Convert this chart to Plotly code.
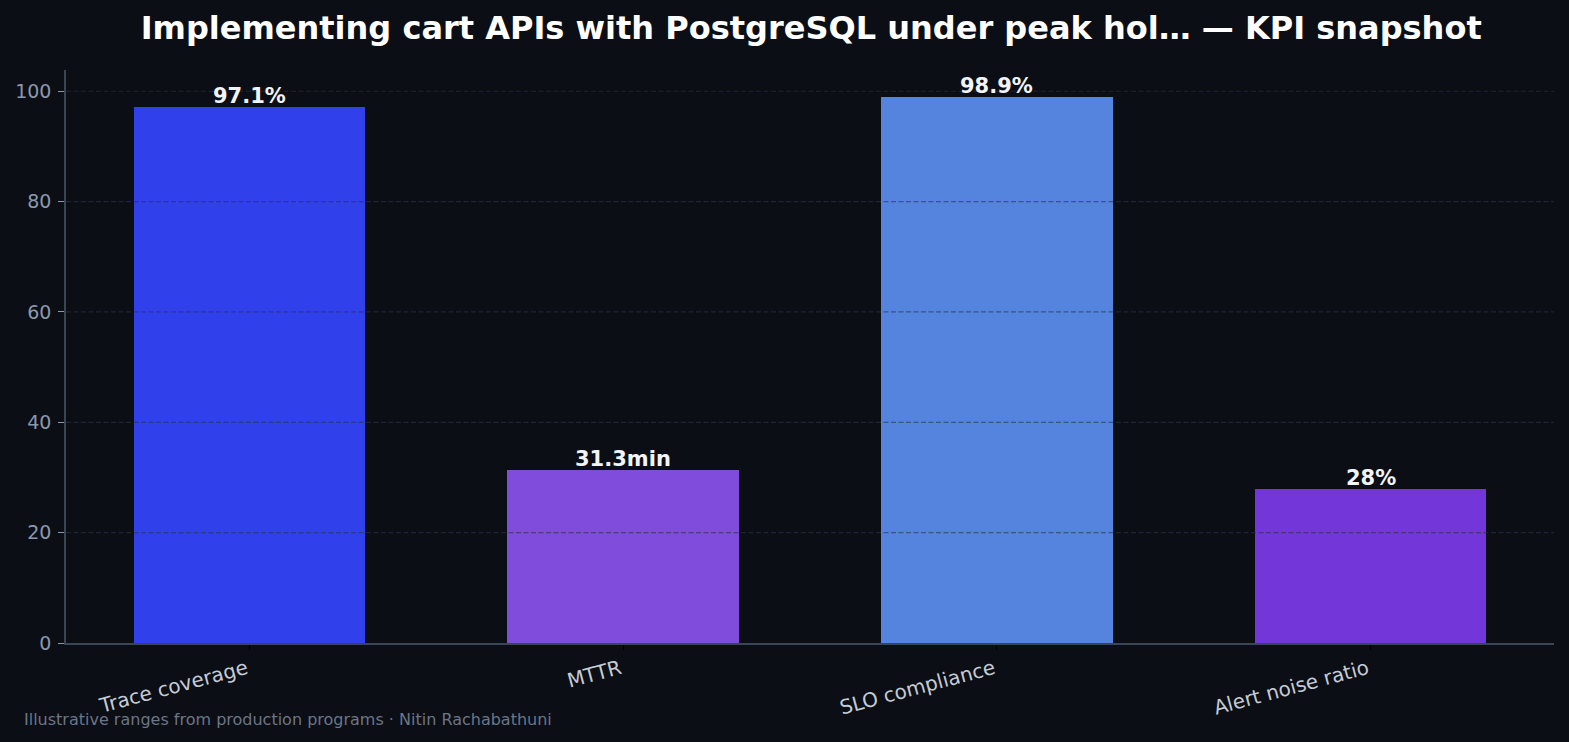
import plotly.graph_objects as go

categories = ["Trace coverage", "MTTR", "SLO compliance", "Alert noise ratio"]
values = [97.1, 31.3, 98.9, 28.0]
labels = ["97.1%", "31.3min", "98.9%", "28%"]
colors = ["#3040EA", "#7F4CDC", "#5584DE", "#7336D9"]
y_ticks = [0, 20, 40, 60, 80, 100]

BG = "#0B0E14"
FONT = "DejaVu Sans"
xs = list(range(len(categories)))

fig = go.Figure()
fig.add_trace(go.Bar(
    x=xs, y=values, width=0.62,
    marker=dict(color=colors, line=dict(width=0)),
    hoverinfo="skip",
))
for xi, v, lab in zip(xs, values, labels):
    fig.add_annotation(
        x=xi, y=v, text=lab, xref="x", yref="y", showarrow=False,
        xanchor="center", yanchor="bottom", yshift=-3,
        font=dict(family=FONT, size=21, color="#F2F4F8", weight="bold"),
    )
# gridlines drawn above the bars (as in the reference)
for t in y_ticks[1:]:
    fig.add_shape(
        type="line", xref="paper", yref="y", x0=0, x1=1, y0=t, y1=t,
        line=dict(color="rgba(42,52,72,0.6)", width=1.2, dash="5px,2.5px"),
        layer="above",
    )
fig.update_layout(
    width=1569, height=742,
    paper_bgcolor=BG, plot_bgcolor=BG,
    margin=dict(l=66, r=15, t=70, b=99),
    showlegend=False,
    title=dict(text="Implementing cart APIs with PostgreSQL under peak hol… — KPI snapshot",
               x=0.517, xanchor="center", y=0.962, yanchor="middle",
               font=dict(family=FONT, size=32, color="#FFFFFF", weight="bold")),
    font=dict(family=FONT),
    bargap=0,
)
fig.update_xaxes(
    range=[-0.491, 3.491],
    tickmode="array", tickvals=xs, ticktext=categories,
    tickangle=-15, tickfont=dict(family=FONT, size=20, color="#C5CBD6"),
    ticks="outside", ticklen=5, tickcolor="#000000", ticklabelshift=-3,
    showline=True, linecolor="#3A4556", linewidth=1.5,
    showgrid=False, zeroline=False, layer="above traces",
)
fig.update_yaxes(
    range=[0, 103.85],
    tickmode="array", tickvals=y_ticks,
    tickfont=dict(family=FONT, size=19, color="#8B98AD"),
    ticks="outside", ticklen=6, tickcolor="#8B98AD", ticklabelstandoff=3,
    showline=True, linecolor="#3A4556", linewidth=1.5,
    showgrid=False, zeroline=False, layer="above traces",
)
fig.add_annotation(
    text="Illustrative ranges from production programs · Nitin Rachabathuni",
    xref="paper", yref="paper", x=-0.0296, y=-0.134, xanchor="left", yanchor="middle",
    showarrow=False, font=dict(family=FONT, size=16, color="#6B7588"),
)
fig.write_html("out.html")
